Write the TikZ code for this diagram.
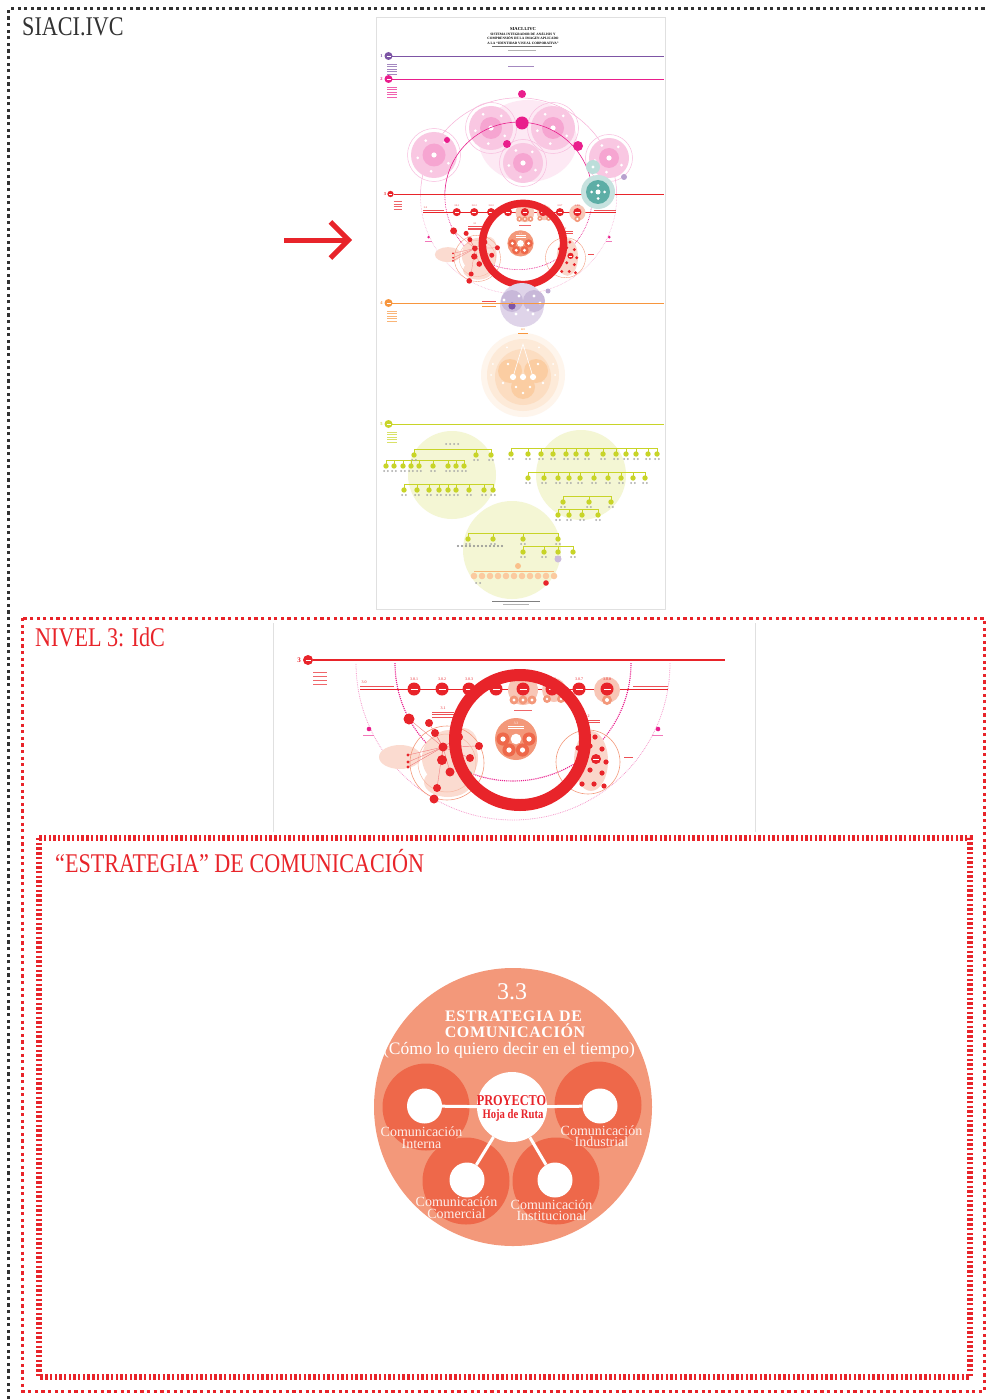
\documentclass[tikz,border=0pt]{standalone}
\usepackage{fontspec}
\setmainfont{Liberation Serif}
\newfontfamily\headfont{Liberation Serif}[FakeStretch=0.82]
\usetikzlibrary{arrows.meta}
\definecolor{ivcred}{RGB}{232,36,42}
\definecolor{ivcsalmon}{RGB}{243,152,122}
\definecolor{ivcdeep}{RGB}{238,104,74}
\definecolor{ivcpink}{RGB}{233,30,140}
\definecolor{ivcteal}{RGB}{64,160,150}
\definecolor{ivcpurple}{RGB}{125,85,165}
\definecolor{ivcorange}{RGB}{247,150,62}
\definecolor{ivclime}{RGB}{200,212,40}
\definecolor{ivcgray}{RGB}{50,50,50}

\begin{document}
\begin{tikzpicture}[x=1pt,y=-1pt,
    frame/.style={line width=3pt, dash pattern=on 3.2pt off 3.4pt},
    thumb/.style={draw=black!12, line width=0.6pt},
    heading/.style={anchor=base west, inner sep=0pt, font=\headfont\fontsize{27}{27}\selectfont},
    deepring/.style={circle, fill=ivcdeep, minimum size=87pt, inner sep=0pt},
    hole/.style={circle, fill=white, minimum size=35pt, inner sep=0pt},
    spoke/.style={white, line width=3pt},
    lbl/.style={align=center, inner sep=0pt, text=white, text opacity=0.88, font=\fontsize{14}{11.5}\selectfont},
    note/.style={inner sep=0pt, font=\fontsize{4}{4}\selectfont},
    bar/.style={line width=0.9pt}]
  \useasboundingbox (0,0) rectangle (987,1399);

  % level 3 of the system, drawn in units of the zoomed copy
  \def\levelthree{%
    % axis of level 3 with its number
    \draw[ivcred, line width=1.3*\ls] (-207,-80) -- (205,-80);
    \fill[ivcred] (-212,-80) circle (5);
    \draw[white, line width=0.8*\ls] (-214.5,-80) -- (-209.5,-80);
    \node[note, text=ivcred, font=\bfseries\fontsize{7}{7}\selectfont] (lvnum) at (-221,-80) {3};
    \foreach \k in {0,...,3}
      \draw[ivcred!70, line width=0.9*\ls] (-207,-68+4*\k) -- (-193,-68+4*\k);
    % outer and inner boundaries
    \draw[ivcpink!45, line width=0.8*\ls, densely dotted] (150,-77) arc[start angle=0, end angle=180, radius=157];
    \draw[ivcpink, line width=1.1*\ls, densely dotted] (111,-77) arc[start angle=0, end angle=180, radius=118];
    \fill[ivcpink] (-151,-11) circle (2.3);
    \fill[ivcpink] (138,-11) circle (2.3);
    \draw[ivcpink!60, line width=0.6*\ls] (-157,-5) -- (-146,-5);
    \draw[ivcpink!60, line width=0.6*\ls] (132,-5) -- (143,-5);
    % row 3.0
    \draw[ivcred, line width=1*\ls] (-160,-51) -- (148,-51);
    \node[note, text=ivcred] (lvrow) at (-156,-58) {3.0};
    \draw[ivcred!80, line width=0.8*\ls] (-160,-54) -- (-126,-54);
    \draw[ivcred!80, line width=0.8*\ls] (113,-54) -- (148,-54);
    \fill[ivcsalmon!55] (3,-50) circle (15);
    \fill[ivcsalmon!55] (34,-50) circle (12);
    \fill[ivcsalmon!55] (87,-50) circle (13);
    \foreach \x in {-6,3,12} {
      \fill[ivcsalmon] (\x,-40) circle (4.5);
      \fill[white] (\x,-40) circle (1.6);
    }
    \foreach \x in {27,41} {
      \fill[ivcsalmon] (\x,-41) circle (4);
      \fill[white] (\x,-41) circle (1.4);
    }
    \fill[ivcsalmon] (87,-40) circle (5);
    \fill[white] (87,-40) circle (2);
    \draw[ivcred!70, line width=0.8*\ls] (-6,-30) -- (12,-30);
    \foreach \x/\n in {-106/1,-78/2,-51/3,-24/4,3/5,32/6,59/7,87/8} {
      \fill[ivcred] (\x,-51) circle (6.5);
      \draw[white, line width=0.6*\ls] (\x-3.5,-51) -- (\x+3.5,-51);
      \node[note, text=ivcred] (lvrow\n) at (\x,-61) {3.0.\n};
    }
    % 3.3 in the middle
    \fill[ivcsalmon] (-4,-1) circle (21);
    \foreach \dx/\dy in {-13/0,13/0,-7/11,6.5/11} {
      \fill[ivcdeep] (-4+\dx,-1+\dy) circle (6.6);
      \fill[white] (-4+\dx,-1+\dy) circle (2.6);
    }
    \fill[white] (-4,-1) circle (5.3);
    \node[note, text=white, font=\fontsize{3.5}{3.5}\selectfont] (lvmid) at (-4,-17) {3.3};
    \foreach \k in {0,1} \draw[white, line width=0.7*\ls] (-12,-13.5+2.2*\k) -- (4,-13.5+2.2*\k);
    % cluster 3.1
    \fill[ivcsalmon!35] (-120,17) ellipse [x radius=21, y radius=12];
    \fill[ivcsalmon!35] (-70,18) circle (28);
    \fill[ivcsalmon!35] (-72,42) ellipse [x radius=24, y radius=15];
    \fill[ivcsalmon!30] (-57,2) circle (14);
    \draw[ivcsalmon, line width=0.6*\ls] (-73,23) circle (37);
    \draw[ivcsalmon!70, line width=0.5*\ls] (-73,23) circle (29);
    \foreach \x/\y in {-111/-21,-91/-17,-85/-7,-61/-3,-41/6,-50/18,-78/20,-70/32,-83/48,-112/15,-112/22,-112/27}
      \draw[ivcred!60, line width=0.4*\ls] (-77,7) -- (\x,\y);
    \foreach \x/\y/\r in {-111/-21/5.5,-91/-17/4,-85/-7/4,-77/7/4.5,-78/20/5,-70/32/4.5,-83/48/4,-86/59/4.5,-61/-3/4,-41/6/4,-50/18/4,-112/15/1.6,-112/22/1.6,-112/27/1.6}
      \fill[ivcred] (\x,\y) circle[radius=\r];
    \fill[ivcteal] (-51,34) circle (3);
    \node[note, text=ivcred] (lvone) at (-77,-32) {3.1};
    \foreach \k in {0,1,2} \draw[ivcred!80, line width=0.7*\ls] (-88,-28+2.5*\k) -- (-66,-28+2.5*\k);
    % cluster 3.2
    \draw[ivcsalmon, line width=0.6*\ls] (68,22) circle (32);
    \fill[ivcsalmon!40] (71,21) ellipse [x radius=17, y radius=30];
    \foreach \x/\y in {62/-5,75/-3,58/8,70/6,82/9,63/20,86/22,58/32,70/30,82/33,62/44,74/44,84/46}
      \fill[ivcred] (\x,\y) circle (2.6);
    \fill[ivcred] (76,19) circle (5);
    \draw[white, line width=0.6*\ls] (73,19) -- (79,19);
    \node[note, text=ivcred] (lvtwo) at (67,-24) {3.2};
    \foreach \k in {0,1} \draw[ivcred!80, line width=0.7*\ls] (56,-20+2.5*\k) -- (80,-20+2.5*\k);
    \draw[ivcred!80, line width=0.7*\ls] (104,17) -- (113,17);
    % highlight ring on 3.3
    \draw[ivcred, line width=12*\ls] (0,0) circle (65);
  }

  % poster thumbnail of the whole system
  \draw[thumb, fill=white] (376,17) rectangle (665,609);
  \node[note, font=\bfseries\fontsize{4.6}{4.6}\selectfont] (ptitle) at (523,29) {SIACI.1.IVC};
  \node[note, align=center, font=\bfseries\fontsize{3.4}{4.2}\selectfont] (psub) at (523,38.5) {SISTEMA INTEGRADOR DE ANÁLISIS Y\\COMPRENSIÓN DE LA IMAGEN APLICADO\\A LA “IDENTIDAD VISUAL CORPORATIVA”};
  \draw[bar, black!55] (492,46.8) -- (552,46.8);
  \draw[black!30, line width=0.6pt] (508,50) -- (536,50);
  \draw[bar, ivcpurple!70] (508,66) -- (534,66);
  % level 2 clusters
  \draw[ivcpink!35, line width=0.5pt] (616.7,195.9) arc[start angle=0, end angle=-180, radius=98.1];
  \fill[ivcpink!10] (528,141) ellipse [x radius=49, y radius=41];
  \foreach \x/\y/\r in {491/128/22,553/128/22,523/163/20,434/155/23,609/158/20} {
    \draw[ivcpink!30, line width=0.5pt] (\x,\y) circle[radius=\r+3.5];
    \fill[ivcpink!25] (\x,\y) circle[radius=\r];
    \fill[ivcpink!40] (\x,\y) circle[radius=0.5*\r];
    \fill[white] (\x,\y) circle (2.6);
    \foreach \a in {30,100,170,240,310} \fill[white] (\x,\y) ++(\a:0.72*\r) circle (1.5);
  }
  \draw[ivcpink, line width=0.6pt] (592.4,195.9) arc[start angle=0, end angle=-180, radius=73.8];
  \foreach \x/\y/\r in {522/94/4,522/123/6.5,507/144/4,578/146/5,447/140/3}
    \fill[ivcpink] (\x,\y) circle[radius=\r];
  % level 3, reduced
  \begin{scope}[shift={(523,244)}, scale=0.625, every node/.append style={transform shape}]
    \def\ls{0.625}
    \levelthree
  \end{scope}
  \draw[ivcred, line width=0.8pt] (651,194) -- (664,194);
  % teal group on the level 3 axis
  \fill[ivcteal!30] (598,192) circle (17);
  \fill[ivcteal!85] (598,192) circle (12);
  \foreach \a in {0,90,180,270} \fill[white] (598,192) ++(\a:6.5) circle (1.5);
  \fill[white] (598,192) circle (2.5);
  \fill[ivcteal!35] (593,167) circle (7);
  \fill[white] (593,167) circle (1.6);
  \fill[ivcpurple!55] (624,177) circle (3);
  % level 4
  \fill[ivcpurple!25] (522,305) circle (22);
  \fill[ivcpurple!42] (512,301) circle (11);
  \fill[ivcpurple!42] (534,301) circle (11);
  \fill[ivcpurple] (512,306) circle (3.6);
  \foreach \x/\y in {504/300,519/296,534/296,540/303,528/310,533/314,516/314}
    \fill[white] (\x,\y) circle (1.6);
  \fill[ivcpurple!50] (548,291) circle (2.5);
  \draw[bar, ivcred!80] (482,301) -- (496,301);
  \draw[bar, ivcorange] (482,306) -- (496,306);
  \fill[ivcorange!10] (523,375) circle (42);
  \fill[ivcorange!20] (523,375) circle (36);
  \fill[ivcorange!32] (523,377) circle (28);
  \foreach \x/\y in {510/371,536/371,523/387} \fill[ivcorange!48] (\x,\y) circle (12);
  \draw[white, line width=0.6pt] (513,377) -- (523,344) -- (533,377);
  \foreach \x in {513,523,533} \fill[white] (\x,377) circle (3.1);
  \foreach \x/\y in {508/364,538/364,503/383,543/383,523/393,516/387,530/387}
    \fill[white] (\x,\y) circle (1.3);
  \foreach \a in {200,240,300,340,0,180} \fill[white] (523,375) ++(\a:32) circle (1);
  \node[note, text=ivcorange, font=\bfseries\fontsize{3}{3}\selectfont] (lvfour) at (523,330) {4.1};
  \draw[ivcorange, line width=0.6pt] (518,333.5) -- (528,333.5);
  % level 5 trees
  \foreach \x/\y/\r in {452/475/44,581/475/45,512/550/49} \fill[ivclime!20] (\x,\y) circle[radius=\r];
  \foreach \y/\xa/\xb in {455/414/491,466/386/464,490/404/493,454/511/657,478/528/645,502/563/611,515/558/598,539/468/558,552/523/573}
    \draw[ivclime, line width=0.5pt] (\xa,\y-6) -- (\xb,\y-6);
  \foreach \y/\xs in {455/{414,476,491},466/{386,394,403,411,419,433,448,456,464},490/{404,417,429,439,448,456,469,484,493},454/{511,528,541,553,566,576,587,603,616,626,636,648,657},478/{528,544,558,569,580,594,608,621,633,645},502/{563,589,611},515/{558,569,582,598},539/{468,493,523,558},552/{523,544,558,573}}
    \foreach \x in \xs {
      \draw[ivclime, line width=0.5pt] (\x,\y-6) -- (\x,\y);
      \fill[ivclime] (\x,\y) circle (2.7);
      \fill[black!35] (\x-1.8,\y+5) circle (1);
      \fill[black!35] (\x+1.8,\y+5) circle (1);
    }
  \foreach \x in {446,450,...,460} \fill[black!35] (\x,444) circle (1);
  \foreach \x in {458,462,...,502} \fill[black!45] (\x,546) circle (1.1);
  \draw[ivcorange!70, line width=0.5pt] (474,571) -- (554,571);
  \foreach \x in {474,482,...,554} \fill[ivcorange!50] (\x,576) circle (3.3);
  \fill[ivcred] (546,583) circle (2.8);
  \fill[ivcorange!60] (518,566) circle (3);
  \fill[ivcpurple!40] (558,559) circle (3.5);
  \foreach \x in {476,480} \fill[black!35] (\x,583) circle (1);
  \draw[bar, black!50] (492,601.5) -- (540,601.5);
  \draw[black!30, line width=0.5pt] (503,604.5) -- (529,604.5);
  % level axes 1, 2, 4, 5
  \foreach \y/\col/\n in {56/ivcpurple/1,79/ivcpink/2,303/ivcorange/4,424/ivclime/5} {
    \draw[color=\col, line width=0.8pt] (392,\y) -- (664,\y);
    \fill[fill=\col] (388.5,\y) circle (4);
    \draw[white, line width=0.5pt] (386.5,\y) -- (390.5,\y);
    \node[note, text=\col, font=\bfseries\fontsize{4.5}{4.5}\selectfont] (lvl\n) at (381.5,\y) {\n};
    \foreach \k in {0,...,4}
      \draw[color=\col!70, line width=0.7pt] (387,\y+8+2.6*\k) -- (397,\y+8+2.6*\k);
  }

  % zoom on level 3
  \draw[thumb] (273,623) -- (273,832);
  \draw[thumb] (755,623) -- (755,832);
  \begin{scope}[shift={(520,740)}, every node/.append style={transform shape}]
    \def\ls{1}
    \levelthree
  \end{scope}

  % arrow to the level in the poster
  \coordinate (pointfrom) at (284,240);
  \coordinate (pointto) at (352,240);
  \draw[ivcred, line width=5pt, -{Straight Barb[length=18pt,width=36pt]}] (pointfrom) -- (pointto);

  % 3.3 communication strategy
  \node[circle, fill=ivcsalmon, minimum size=278pt, inner sep=0pt] (strat) at (513,1107) {};
  \node[deepring] (ringint) at (426,1107) {};
  \node[deepring] (ringind) at (598,1105) {};
  \node[deepring] (ringcom) at (466,1181) {};
  \node[deepring] (ringins) at (556,1181) {};
  \node[circle, fill=white, minimum size=70pt, inner sep=0pt] (proj) at (512,1107) {};
  \node[hole] (holeint) at (424.5,1106) {};
  \node[hole] (holeind) at (600,1106) {};
  \node[hole] (holecom) at (467,1180) {};
  \node[hole] (holeins) at (555,1180) {};
  \foreach \h in {holeint,holeind,holecom,holeins} \draw[spoke] (proj) -- (\h);
  \node[inner sep=0pt, anchor=base, text=white, font=\fontsize{24}{24}\selectfont] (stratnum) at (512,999) {3.3};
  \node[inner sep=0pt, anchor=base, text=white, font=\bfseries\fontsize{16}{16}\selectfont\addfontfeature{LetterSpace=4}] (strattop) at (513.5,1021) {ESTRATEGIA DE};
  \node[inner sep=0pt, anchor=base, text=white, font=\bfseries\fontsize{16}{16}\selectfont\addfontfeature{LetterSpace=4}] (stratbot) at (515,1037) {COMUNICACIÓN};
  \node[inner sep=0pt, anchor=base, text=white, font=\fontsize{17.5}{17.5}\selectfont] (stratsub) at (509,1054) {(Cómo lo quiero decir en el tiempo)};
  \node[inner sep=0pt, anchor=base, text=ivcred, font=\headfont\bfseries\fontsize{15}{15}\selectfont] (projtop) at (511.5,1105) {PROYECTO};
  \node[inner sep=0pt, anchor=base, text=ivcred, font=\headfont\bfseries\fontsize{13}{13}\selectfont] (projbot) at (513,1118.5) {Hoja de Ruta};
  \node[lbl] (lblint) at (421.5,1137.6) {Comunicación\\Interna};
  \node[lbl] (lblind) at (601.5,1136) {Comunicación\\Industrial};
  \node[lbl] (lblcom) at (456.5,1207.6) {Comunicación\\Comercial};
  \node[lbl] (lblins) at (551.5,1210) {Comunicación\\Institucional};

  % frames and headings
  \draw[frame, ivcgray] (8.5,1399) -- (8.5,9) -- (987,9);
  \draw[frame, ivcred] (22.5,618) rectangle (984,1391);
  \draw[ivcred, line width=6pt, dash pattern=on 2.4pt off 2.3pt] (39,838) rectangle (970,1377);
  \node[heading, text=ivcgray] (siaci) at (22,36) {SIACI.IVC};
  \node[heading, text=ivcred] (nivel) at (35,646) {NIVEL 3: IdC};
  \node[heading, text=ivcred] (estr) at (55,872) {“ESTRATEGIA” DE COMUNICACIÓN};
\end{tikzpicture}
\end{document}
